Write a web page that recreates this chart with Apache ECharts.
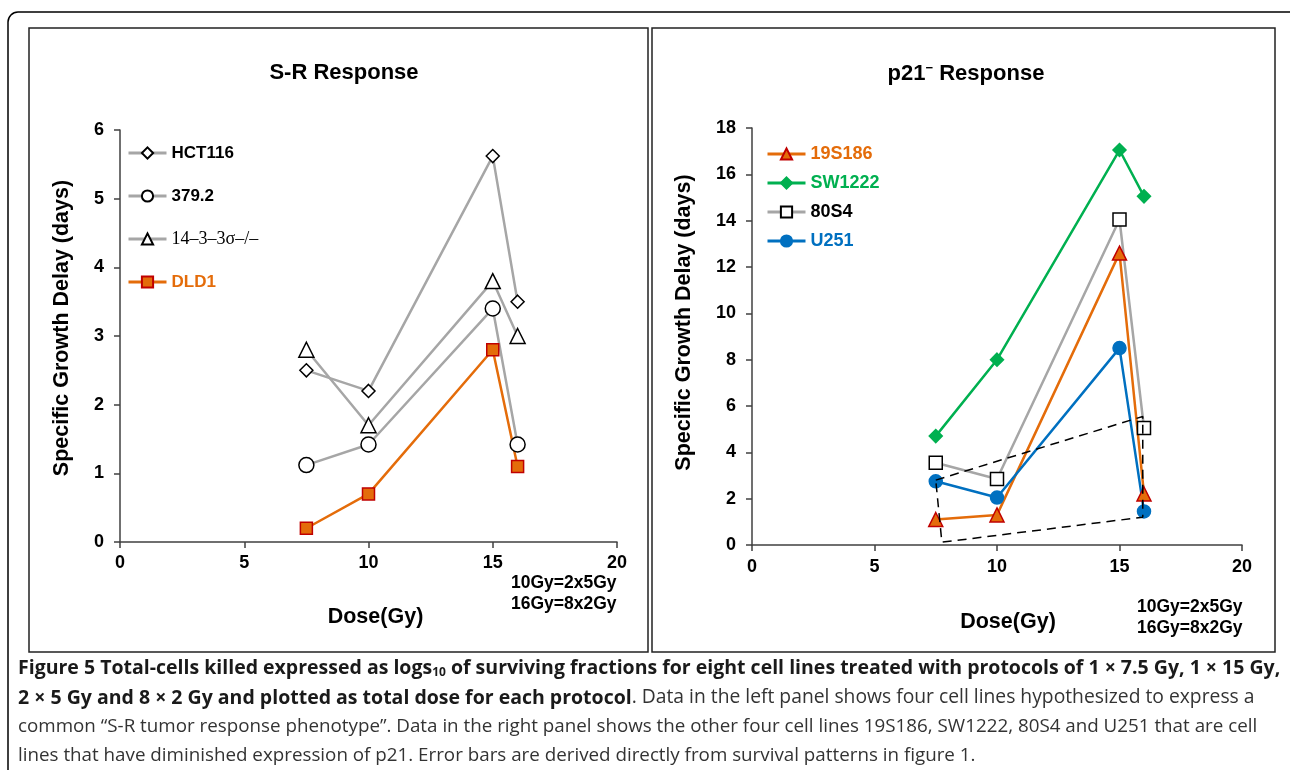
<!DOCTYPE html>
<html>
<head>
<meta charset="utf-8">
<script src="https://cdn.jsdelivr.net/npm/echarts@6/dist/echarts.min.js"></script>
<style>html,body{margin:0;padding:0;background:#fff}#c{width:1290px;height:770px}</style>
</head>
<body>
<div id="c"></div>
<script>
// ---- data ----
const dose = [7.5, 10, 15, 16];
const xTicks = [0, 5, 10, 15, 20];
// left panel: S-R Response
const leftNames = ['HCT116', '379.2', '14\u20133\u20133\u03c3\u2013/\u2013', 'DLD1'];
const hct116 = [2.5, 2.2, 5.62, 3.5];
const s379 = [1.12, 1.42, 3.4, 1.42];
const s1433 = [2.8, 1.7, 3.8, 3.0];
const dld1 = [0.2, 0.7, 2.8, 1.1];
// right panel: p21- Response
const rightNames = ['19S186', 'SW1222', '80S4', 'U251'];
const s19s186 = [1.1, 1.3, 12.6, 2.2];
const sw1222 = [4.7, 8.0, 17.05, 15.05];
const s80s4 = [3.55, 2.85, 14.05, 5.05];
const u251 = [2.75, 2.05, 8.5, 1.45];
// dashed outline in right panel
const polyX = [7.5, 15.95, 15.95, 7.75, 7.5];
const polyY = [2.8, 5.55, 1.2, 0.12, 2.8];

const pairs = (xs, ys) => xs.map((x, i) => [x, ys[i]]);

const GRAY = '#A6A6A6', ORANGE = '#E46C0A', RED = '#C00000', GREEN = '#00B050', BLUE = '#0070C0';
const tickFont = {color: '#000', fontWeight: 'bold', fontSize: 18, fontFamily: 'Liberation Sans'};
const axisLine = {show: true, lineStyle: {color: '#404040', width: 1.5}};
const nameFont = {color: '#000', fontWeight: 'bold', fontSize: 21.5, fontFamily: 'Liberation Sans'};

function xAx(gi, gap, padLeft, margin) {
  return {type: 'value', gridIndex: gi, min: 0, max: 20, interval: 5,
    axisLine: axisLine, axisTick: {show: true, length: 6, lineStyle: {color: '#404040', width: 1.5}},
    axisLabel: Object.assign({margin: margin}, tickFont), splitLine: {show: false},
    name: 'Dose(Gy)', nameLocation: 'middle', nameGap: gap,
    nameTextStyle: Object.assign({padding: [0, 0, 0, padLeft]}, nameFont)};
}
function yAx(gi, max, interval, gap, padB) {
  return {type: 'value', gridIndex: gi, min: 0, max: max, interval: interval,
    axisLine: axisLine, axisTick: {show: true, length: 6, lineStyle: {color: '#404040', width: 1.5}},
    axisLabel: Object.assign({margin: 16}, tickFont), splitLine: {show: false},
    name: 'Specific Growth Delay (days)', nameLocation: 'middle', nameGap: gap,
    nameTextStyle: Object.assign({padding: [0, 0, 0, padB]}, nameFont)};
}
function ser(name, gi, ys, lineColor, symbol, size, fill, border) {
  return {name: name, type: 'line', xAxisIndex: gi, yAxisIndex: gi, data: pairs(dose, ys),
    symbol: symbol, symbolSize: size, showAllSymbol: true,
    lineStyle: {color: lineColor, width: 2.5},
    itemStyle: {color: fill, borderColor: border, borderWidth: 1.5},
    emphasis: {disabled: true}, z: 3};
}
function lt(color, size, weight, family) {
  return {color: color, fontWeight: weight || 'bold', fontFamily: family || 'Liberation Sans', fontSize: size, lineHeight: 18};
}

const option = {
  backgroundColor: '#fff',
  animation: false,
  title: [
    {text: 'S-R Response', left: 339, top: 57, textAlign: 'center',
      textStyle: {color: '#000', fontWeight: 'bold', fontSize: 22, fontFamily: 'Liberation Sans'}},
    {text: 'p21{sup|\u2212} Response', left: 961, top: 57, textAlign: 'center',
      textStyle: {color: '#000', fontWeight: 'bold', fontSize: 22, fontFamily: 'Liberation Sans',
        rich: {sup: {fontSize: 13, fontWeight: 'bold', color: '#000', fontFamily: 'Liberation Sans', padding: [0, 0, 11, 0]}}}}
  ],
  grid: [
    {left: 120, top: 130, width: 497, height: 412},
    {left: 752, top: 128, width: 490, height: 417}
  ],
  xAxis: [xAx(0, 64, 14, 12), xAx(1, 66, 22, 13)],
  yAxis: [yAx(0, 6, 1, 47, 16), yAx(1, 18, 2, 57, 28)],
  legend: [
    {data: [
      {name: leftNames[0], textStyle: lt('#000', 17)},
      {name: leftNames[1], textStyle: lt('#000', 17)},
      {name: leftNames[2], textStyle: lt('#000', 18, 'normal', 'Liberation Serif')},
      {name: leftNames[3], textStyle: lt(ORANGE, 17)}
    ], orient: 'vertical', left: 122, top: 139, itemWidth: 38, itemHeight: 14, itemGap: 25, selectedMode: false,
      lineStyle: {width: 3}},
    {data: [
      {name: rightNames[0], textStyle: lt(ORANGE, 18)},
      {name: rightNames[1], textStyle: lt(GREEN, 18)},
      {name: rightNames[2], textStyle: lt('#000', 18)},
      {name: rightNames[3], textStyle: lt(BLUE, 18)}
    ], orient: 'vertical', left: 761, top: 140, itemWidth: 38, itemHeight: 14, itemGap: 11, selectedMode: false,
      lineStyle: {width: 3}}
  ],
  series: [
    ser(leftNames[0], 0, hct116, GRAY, 'diamond', 13, '#fff', '#000'),
    ser(leftNames[1], 0, s379, GRAY, 'circle', 15, '#fff', '#000'),
    ser(leftNames[2], 0, s1433, GRAY, 'triangle', 15, '#fff', '#000'),
    ser(leftNames[3], 0, dld1, ORANGE, 'rect', 12, ORANGE, RED),
    ser(rightNames[0], 1, s19s186, ORANGE, 'triangle', 14, ORANGE, RED),
    ser(rightNames[1], 1, sw1222, GREEN, 'diamond', 13, GREEN, GREEN),
    ser(rightNames[2], 1, s80s4, GRAY, 'rect', 13, '#fff', '#000'),
    ser(rightNames[3], 1, u251, BLUE, 'circle', 13, BLUE, BLUE),
    {name: 'outline', type: 'line', xAxisIndex: 1, yAxisIndex: 1, data: pairs(polyX, polyY),
      symbol: 'none', lineStyle: {color: '#000', width: 1.5, type: [9, 6]}, z: 4,
      emphasis: {disabled: true}, silent: true}
  ],
  graphic: [
    {type: 'rect', shape: {x: 8, y: 12, width: 1300, height: 820, r: 10}, style: {fill: 'none', stroke: '#000', lineWidth: 1.5}, z: -1},
    {type: 'rect', shape: {x: 29, y: 28, width: 619, height: 624}, style: {fill: 'none', stroke: '#222', lineWidth: 1.5}, z: -1},
    {type: 'rect', shape: {x: 652, y: 28, width: 623, height: 624}, style: {fill: 'none', stroke: '#222', lineWidth: 1.5}, z: -1},
    {type: 'text', left: 511, top: 573, style: {text: '10Gy=2x5Gy\n16Gy=8x2Gy', fill: '#000', font: 'bold 17.5px "Liberation Sans"', lineHeight: 20.5}},
    {type: 'text', left: 1137, top: 597, style: {text: '10Gy=2x5Gy\n16Gy=8x2Gy', fill: '#000', font: 'bold 17.5px "Liberation Sans"', lineHeight: 20.5}},
    {type: 'text', x: 18, y: 668, style: {
      text: 'Figure 5 Total-cells killed expressed as logs{sub|10} of surviving fractions for eight cell lines treated with protocols of 1 \u00d7 7.5 Gy, 1 \u00d7 15 Gy,',
      fill: '#1a1a1a', font: 'bold 19.5px "Open Sans"', verticalAlign: 'middle',
      rich: {sub: {fontSize: 12, fontWeight: 'bold', fontFamily: 'Open Sans', fill: '#1a1a1a', padding: [9, 0, 0, 0]}}}},
    {type: 'text', x: 18, y: 698, style: {
      text: '{b|2 \u00d7 5 Gy and 8 \u00d7 2 Gy and plotted as total dose for each protocol}. Data in the left panel shows four cell lines hypothesized to express a',
      fill: '#333', font: '19.3px "Open Sans"', verticalAlign: 'middle',
      rich: {b: {fontWeight: 'bold', fontSize: 19.5, fontFamily: 'Open Sans', fill: '#1a1a1a'}}}},
    {type: 'text', x: 18, y: 727, style: {
      text: 'common \u201cS-R tumor response phenotype\u201d. Data in the right panel shows the other four cell lines 19S186, SW1222, 80S4 and U251 that are cell',
      fill: '#333', font: '18.8px "Open Sans"', verticalAlign: 'middle'}},
    {type: 'text', x: 18, y: 756, style: {
      text: 'lines that have diminished expression of p21. Error bars are derived directly from survival patterns in figure 1.',
      fill: '#333', font: '18.8px "Open Sans"', verticalAlign: 'middle'}}
  ]
};
const chart = echarts.init(document.getElementById('c'), null, {renderer: 'canvas'});
chart.setOption(option);
</script>
</body>
</html>
